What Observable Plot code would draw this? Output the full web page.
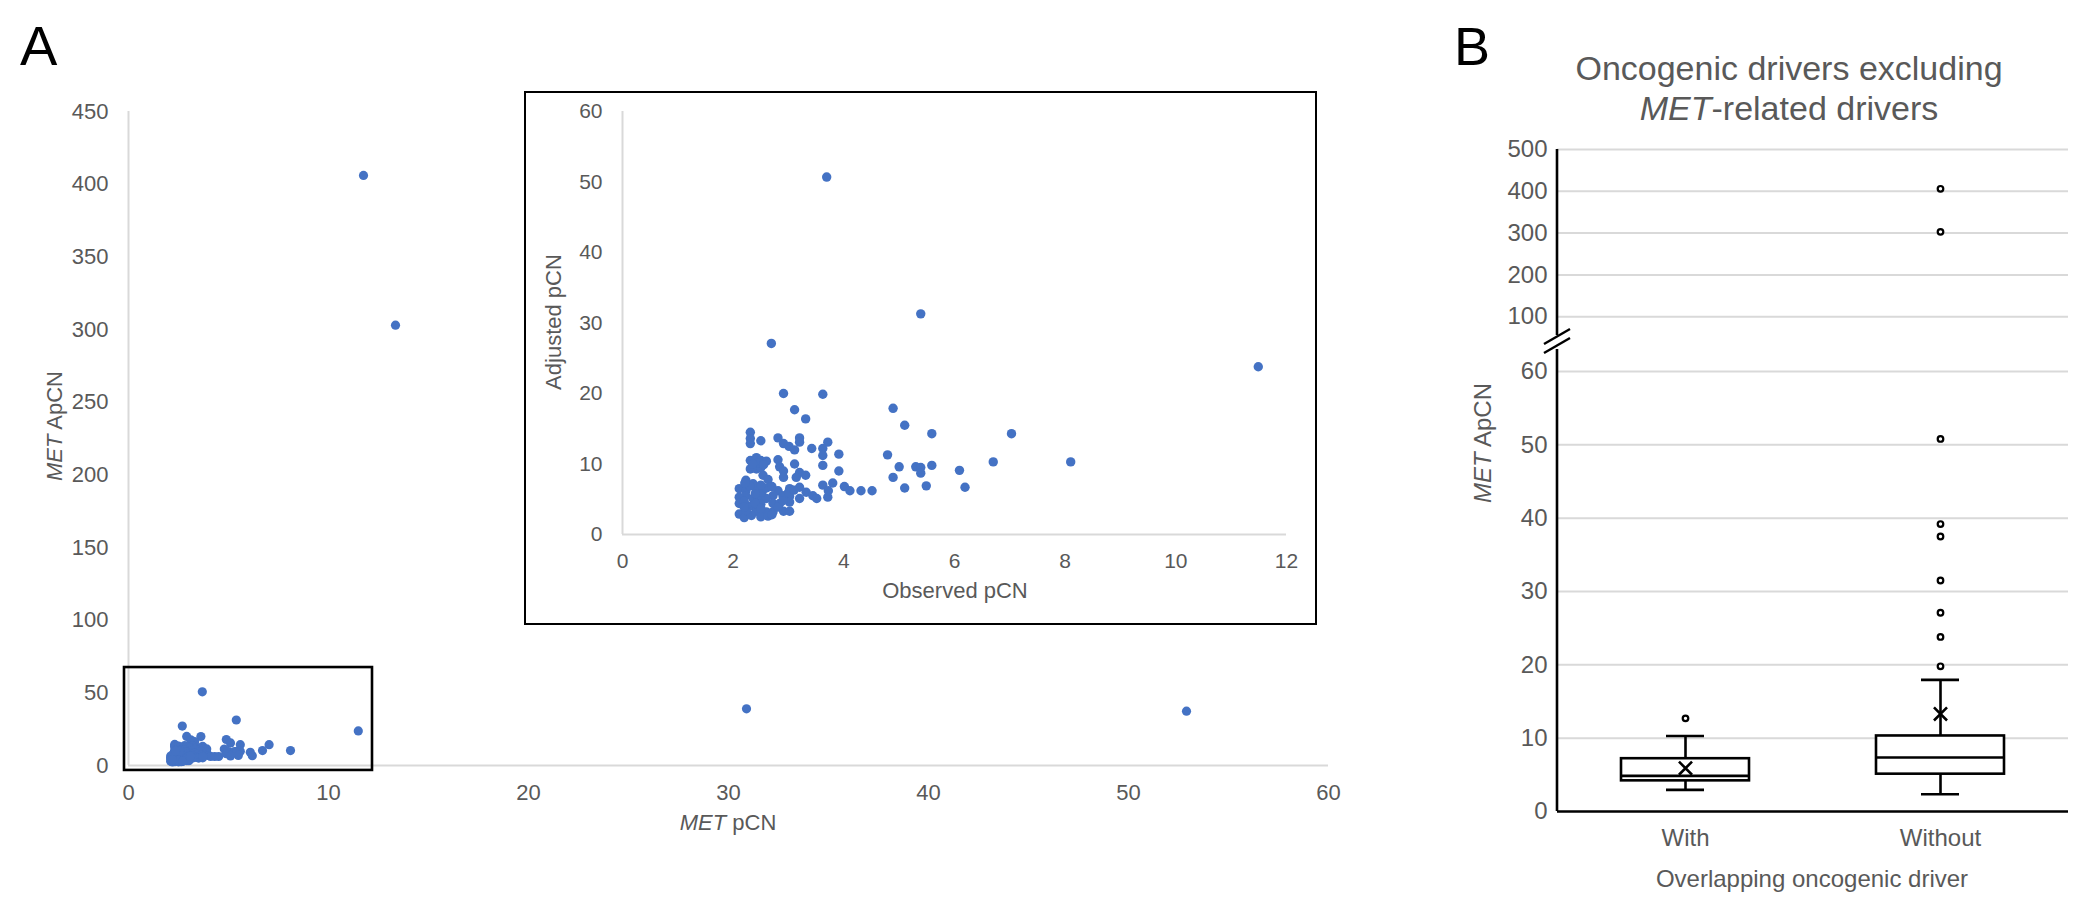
<!DOCTYPE html>
<html>
<head>
<meta charset="utf-8">
<script src="https://cdn.jsdelivr.net/npm/d3@7"></script>
<script src="https://cdn.jsdelivr.net/npm/@observablehq/plot@0.6"></script>
<style>
  body { margin: 0; background: #fff; }
  #root { position: relative; width: 2100px; height: 901px; overflow: hidden; background: #fff; }
  #root > * { position: absolute; }
</style>
</head>
<body>
<div id="root"></div>
<script>
// ---------- Panel A data: observed vs adjusted pCN (inset region) ----------
const observedPCN = [
  2.91, 3.62, 3.11, 3.31, 2.31, 2.31, 2.31, 2.50, 2.81, 3.20,
  3.20, 3.71, 2.91, 3.01, 3.11, 3.42, 3.62, 3.62, 3.91, 2.31,
  2.42, 2.50, 2.60, 2.81, 3.11, 3.62, 2.31, 2.42, 2.50, 2.84,
  2.91, 3.20, 3.31, 3.14, 3.91, 2.54, 2.23, 2.36, 2.63, 2.91,
  3.80, 3.62, 4.01, 4.11, 4.31, 4.51, 3.20, 3.32, 3.44, 3.51,
  3.71, 3.72, 3.02, 2.81, 2.72, 3.02, 3.20, 2.11, 2.23, 2.42,
  2.23, 2.11, 2.48, 2.60, 2.72, 2.84, 3.02, 2.11, 2.31, 2.50,
  2.42, 2.60, 2.91, 3.02, 2.11, 2.20, 2.33, 2.50, 2.63, 2.23,
  2.72, 2.81, 2.36, 3.69, 5.39, 2.69, 11.49, 4.89, 5.10, 5.59,
  7.03, 4.79, 6.70, 8.10, 5.59, 5.00, 5.30, 5.39, 5.39, 6.09,
  4.89, 5.49, 6.19, 5.10,
  2.20, 2.40, 2.30, 2.52, 2.60, 2.40, 2.70, 2.21, 2.50, 2.90,
  3.00, 2.90, 3.10, 2.50, 2.70, 2.20, 2.45, 2.55, 2.35
];
const adjustedPCN = [
  20.0, 19.9, 17.7, 16.4, 14.5, 13.6, 12.9, 13.3, 13.7, 13.7,
  13.1, 13.1, 12.9, 12.5, 12.0, 12.2, 12.2, 11.2, 11.4, 10.5,
  10.9, 10.5, 10.4, 10.6, 10.0, 9.8, 9.3, 9.3, 9.5, 9.6,
  9.0, 8.8, 8.4, 8.1, 9.0, 8.4, 7.7, 7.2, 7.8, 8.1,
  7.3, 7.0, 6.8, 6.2, 6.2, 6.2, 6.7, 6.0, 5.5, 5.1,
  5.3, 6.2, 6.5, 6.2, 5.5, 5.4, 5.1, 6.5, 6.2, 6.5,
  5.5, 5.3, 5.3, 5.1, 4.4, 4.4, 4.6, 4.4, 4.0, 4.3,
  3.3, 3.2, 3.3, 3.3, 2.9, 2.4, 2.7, 2.5, 2.6, 3.4,
  3.2, 3.9, 5.1, 50.7, 31.3, 27.1, 23.8, 17.9, 15.5, 14.3,
  14.3, 11.3, 10.3, 10.3, 9.8, 9.6, 9.6, 9.5, 8.7, 9.1,
  8.1, 6.9, 6.7, 6.6,
  4.7, 4.4, 6.9, 6.0, 6.6, 5.8, 6.8, 7.3, 7.0, 5.5,
  6.0, 4.8, 6.3, 3.7, 2.8, 3.9, 10.2, 9.9, 10.0
];
// points visible only at the full scale (outside the inset)
const extraMetPCN  = [11.75, 13.35, 30.9, 52.9];
const extraMetApCN = [406, 303, 39.0, 37.4];

const mainXTicks  = [0, 10, 20, 30, 40, 50, 60];
const mainYTicks  = [0, 50, 100, 150, 200, 250, 300, 350, 400, 450];
const insetXTicks = [0, 2, 4, 6, 8, 10, 12];
const insetYTicks = [0, 10, 20, 30, 40, 50, 60];
// outline of the zoomed region drawn on the full plot
const zoomRegionX = [-0.2, 12.2];
const zoomRegionY = [-3.4, 67.4];

// ---------- Panel B data: box plot of MET ApCN ----------
const groups      = ["With", "Without"];
const whiskerLow  = [2.95, 2.36];
const q1          = [4.18, 5.09];
const median      = [4.86, 7.36];
const q3          = [7.2, 10.3];
const whiskerHigh = [10.3, 17.95];
const meanValue   = [5.9, 13.3];
const outlierGroup = ["With", "Without", "Without", "Without", "Without", "Without", "Without", "Without", "Without", "Without"];
const outlierValue = [12.7, 406, 303, 50.8, 39.2, 37.5, 31.5, 27.1, 23.8, 19.8];
const upperTicks = [100, 200, 300, 400, 500];
const lowerTicks = [0, 10, 20, 30, 40, 50, 60];
const breakValue = 63;

// ---------- build ----------
const FONT = '"Liberation Sans", Arial, Helvetica, sans-serif';
const GRAY = "#595959";
const LIGHT = "#d9d9d9";
const BLUE = "#4472c4";
const root = document.getElementById("root");

const insetPts = observedPCN.map((x, i) => ({x, y: adjustedPCN[i]}));
const mainPts = insetPts.concat(extraMetPCN.map((x, i) => ({x, y: extraMetApCN[i]})));
const zoomRect = [{x1: zoomRegionX[0], x2: zoomRegionX[1], y1: zoomRegionY[0], y2: zoomRegionY[1]}];

function baseStyle(size) {
  return {fontFamily: FONT, fontSize: size + "px", color: GRAY, background: "transparent", overflow: "visible"};
}

// Main scatter (panel A)
const mainPlot = Plot.plot({
  width: 1400, height: 850,
  marginLeft: 128, marginRight: 72, marginTop: 111, marginBottom: 85,
  style: baseStyle(22),
  x: {domain: [0, 60], ticks: mainXTicks, tickSize: 0, tickPadding: 19, label: null},
  y: {domain: [0, 450], ticks: mainYTicks, tickSize: 0, tickPadding: 20, label: null},
  marks: [
    Plot.ruleX([0], {stroke: LIGHT, strokeWidth: 2}),
    Plot.ruleY([0], {stroke: LIGHT, strokeWidth: 2}),
    Plot.dot(mainPts, {x: "x", y: "y", r: 4.6, fill: BLUE}),
    Plot.rect(zoomRect, {x1: "x1", x2: "x2", y1: "y1", y2: "y2", fill: "none", stroke: "#000", strokeWidth: 2.6})
  ]
});
mainPlot.style.left = "0px"; mainPlot.style.top = "0px";
root.appendChild(mainPlot);

// Inset (zoomed) scatter
const insetBox = document.createElement("div");
Object.assign(insetBox.style, {left: "524px", top: "91px", width: "793px", height: "534px",
  border: "2.6px solid #000", boxSizing: "border-box", background: "#fff"});
root.appendChild(insetBox);
const insetPlot = Plot.plot({
  width: 788, height: 529,
  marginLeft: 96, marginRight: 28, marginTop: 18, marginBottom: 88,
  style: baseStyle(21),
  x: {domain: [0, 12], ticks: insetXTicks, tickSize: 0, tickPadding: 19, label: null},
  y: {domain: [0, 60], ticks: insetYTicks, tickSize: 0, tickPadding: 20, label: null},
  marks: [
    Plot.ruleX([0], {stroke: LIGHT, strokeWidth: 2}),
    Plot.ruleY([0], {stroke: LIGHT, strokeWidth: 2}),
    Plot.dot(insetPts, {x: "x", y: "y", r: 4.7, fill: BLUE})
  ]
});
insetPlot.style.position = "static";
insetBox.appendChild(insetPlot);

// Box plot (panel B) — broken y axis: upper and lower parts
const stats = groups.map((g, i) => ({group: g, low: whiskerLow[i], q1: q1[i], median: median[i], q3: q3[i], high: whiskerHigh[i], mean: meanValue[i]}));
const outliers = outlierGroup.map((g, i) => ({group: g, value: outlierValue[i]}));
const xBand = {type: "band", domain: groups, paddingInner: 0.5, paddingOuter: 0.25};

const upperPlot = Plot.plot({
  width: 700, height: 340,
  marginLeft: 157, marginRight: 32, marginTop: 149, marginBottom: 5,
  style: baseStyle(24),
  x: {...xBand, axis: null},
  y: {domain: [55, 500], ticks: upperTicks, tickSize: 0, tickPadding: 10, label: null},
  marks: [
    Plot.ruleY(upperTicks, {stroke: LIGHT, strokeWidth: 2}),
    Plot.dot(outliers.filter(d => d.value > breakValue), {x: "group", y: "value", r: 2.8, fill: "#fff", stroke: "#000", strokeWidth: 2.2})
  ]
});
upperPlot.style.left = "1400px"; upperPlot.style.top = "0px";
root.appendChild(upperPlot);

const lowerPlot = Plot.plot({
  width: 700, height: 561,
  marginLeft: 157, marginRight: 32, marginTop: 9, marginBottom: 90,
  style: baseStyle(24),
  x: {...xBand, tickSize: 0, tickPadding: 17, label: null},
  y: {domain: [0, breakValue], ticks: lowerTicks, tickSize: 0, tickPadding: 10, label: null},
  marks: [
    Plot.ruleY(lowerTicks.filter(t => t > 0), {stroke: LIGHT, strokeWidth: 2}),
    Plot.ruleX(stats, {x: "group", y1: "low", y2: "high", stroke: "#000", strokeWidth: 2.6}),
    Plot.tickY(stats, {x: "group", y: "low", stroke: "#000", strokeWidth: 2.6, insetLeft: 45, insetRight: 45}),
    Plot.tickY(stats, {x: "group", y: "high", stroke: "#000", strokeWidth: 2.6, insetLeft: 45, insetRight: 45}),
    Plot.barY(stats, {x: "group", y1: "q1", y2: "q3", fill: "#fff", stroke: "#000", strokeWidth: 2.6}),
    Plot.tickY(stats, {x: "group", y: "median", stroke: "#000", strokeWidth: 2.6}),
    Plot.dot(stats, {x: "group", y: "mean", symbol: "times", r: 6, stroke: "#000", strokeWidth: 2.6}),
    Plot.dot(outliers.filter(d => d.value <= breakValue), {x: "group", y: "value", r: 2.8, fill: "#fff", stroke: "#000", strokeWidth: 2.2}),
    Plot.ruleY([0], {stroke: "#000", strokeWidth: 2.6})
  ]
});
lowerPlot.style.left = "1400px"; lowerPlot.style.top = "340px";
root.appendChild(lowerPlot);

// y-axis lines for the broken axis, from each plot's own scales
function axisLine(plot, yTop) {
  const sx = plot.scale("x"), sy = plot.scale("y");
  const x0 = sx.range[0];
  d3.select(plot).append("line")
    .attr("x1", x0).attr("x2", x0)
    .attr("y1", sy.apply(yTop)).attr("y2", sy.range[0])
    .attr("stroke", "#000").attr("stroke-width", 2.6);
  return x0;
}
axisLine(upperPlot, 500);
axisLine(lowerPlot, breakValue);

// Overlay: texts and axis-break marks
const ov = d3.select(root).append("svg")
  .attr("width", 2100).attr("height", 901)
  .style("left", "0px").style("top", "0px").style("pointer-events", "none")
  .attr("font-family", FONT);

function label(parts, x, y, size, opt = {}) {
  const t = ov.append("text")
    .attr("x", x).attr("y", y)
    .attr("font-size", size)
    .attr("fill", opt.fill || GRAY)
    .attr("text-anchor", opt.anchor || "middle");
  if (opt.rotate) t.attr("transform", `rotate(-90 ${x} ${y})`);
  parts.forEach(([s, it]) => t.append("tspan").attr("font-style", it ? "italic" : "normal").text(s));
  return t;
}
label([["A", false]], 20, 65, 56, {fill: "#000", anchor: "start"});
label([["B", false]], 1454, 65, 54, {fill: "#000", anchor: "start"});

label([["MET", true], [" ApCN", false]], 62, 426, 22, {rotate: true});
label([["MET", true], [" pCN", false]], 728, 830, 22);
label([["Adjusted pCN", false]], 561, 322, 22, {rotate: true});
label([["Observed pCN", false]], 955, 598, 22);

label([["Oncogenic drivers excluding", false]], 1789, 80, 34);
label([["MET", true], ["-related drivers", false]], 1789, 120, 34);
label([["MET", true], [" ApCN", false]], 1491, 443, 24, {rotate: true});
label([["Overlapping oncogenic driver", false]], 1812, 887, 24);

// axis break marks (decoration) at the junction of the two y-axis parts
{
  const ax = 1400 + upperPlot.scale("x").range[0];
  const yA = upperPlot.scale("y").range[0];
  const yB = 340 + lowerPlot.scale("y").range[1];
  const mid = (yA + yB) / 2;
  ov.append("polygon")
    .attr("points", `${ax-13},${mid+2} ${ax+13},${mid-13} ${ax+13},${mid-4} ${ax-13},${mid+11}`)
    .attr("fill", "#fff");
  ov.append("line").attr("x1", ax - 13).attr("y1", mid + 2).attr("x2", ax + 13).attr("y2", mid - 13)
    .attr("stroke", "#000").attr("stroke-width", 2.4);
  ov.append("line").attr("x1", ax - 13).attr("y1", mid + 11).attr("x2", ax + 13).attr("y2", mid - 4)
    .attr("stroke", "#000").attr("stroke-width", 2.4);
}
</script>
</body>
</html>
